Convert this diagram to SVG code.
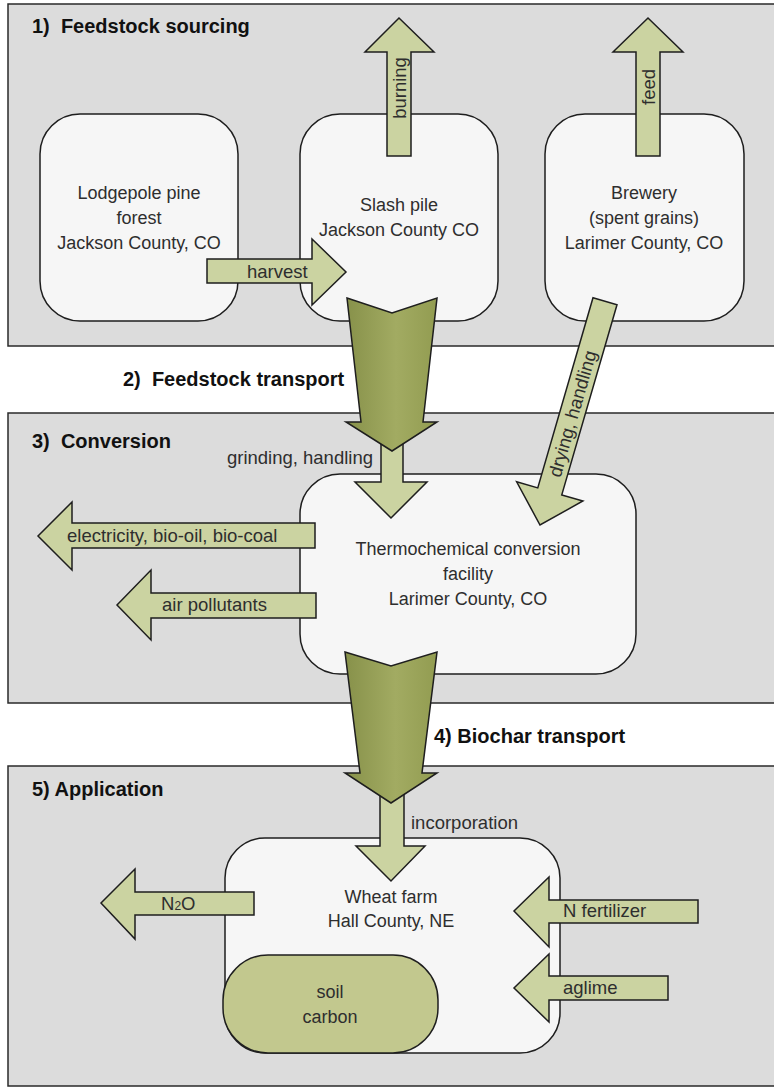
<svg xmlns="http://www.w3.org/2000/svg" width="774" height="1088" viewBox="0 0 774 1088">
<style>
.panel{fill:#dcdcdc;stroke:#2a2a2a;stroke-width:1.5}
.box{fill:#f6f6f6;stroke:#1e1e1e;stroke-width:1.5}
.soil{fill:#c2c88e;stroke:#1e1e1e;stroke-width:1.5}
.la{fill:#cbd3a1;stroke:#1e1e1e;stroke-width:1.5;stroke-linejoin:miter}
.da{fill:url(#dg);stroke:#1e1e1e;stroke-width:1.5}
.t{font-family:"Liberation Sans",Arial,sans-serif;font-size:18px;fill:#2e2e2e}
.tl{font-family:"Liberation Sans",Arial,sans-serif;font-size:18.5px;fill:#2e2e2e}
.h{font-family:"Liberation Sans",Arial,sans-serif;font-size:20px;font-weight:bold;fill:#111}
.c{text-anchor:middle}
</style>
<defs>
<linearGradient id="dg" x1="0" y1="0" x2="1" y2="0">
<stop offset="0" stop-color="#87914a"/>
<stop offset="0.55" stop-color="#a2ab62"/>
<stop offset="1" stop-color="#929c51"/>
</linearGradient>
</defs>
<rect width="774" height="1088" fill="#ffffff"/>
<g id="panels">
<rect class="panel" x="8" y="4" width="780" height="342"/>
<rect class="panel" x="8" y="413" width="780" height="290"/>
<rect class="panel" x="8" y="766" width="780" height="320"/>
<text class="h" x="32" y="33">1)&#160; Feedstock sourcing</text>
<text class="h" x="123" y="386">2)&#160; Feedstock transport</text>
<text class="h" x="32" y="448">3)&#160; Conversion</text>
<text class="h" x="434" y="743">4) Biochar transport</text>
<text class="h" x="32" y="796">5) Application</text>
</g>
<g id="node-lodgepole">
<rect class="box" x="40" y="114" width="198" height="207" rx="40"/>
<text class="t c" x="139" y="199">Lodgepole pine</text>
<text class="t c" x="139" y="224">forest</text>
<text class="t c" x="139" y="249">Jackson County, CO</text>
</g>
<g id="node-slash">
<rect class="box" x="300" y="114" width="198" height="207" rx="40"/>
<text class="t c" x="399" y="211">Slash pile</text>
<text class="t c" x="399" y="236">Jackson County CO</text>
</g>
<g id="node-brewery">
<rect class="box" x="545" y="114" width="199" height="207" rx="40"/>
<text class="t c" x="644" y="199">Brewery</text>
<text class="t c" x="644" y="224">(spent grains)</text>
<text class="t c" x="644" y="249">Larimer County, CO</text>
</g>
<g id="node-facility">
<rect class="box" x="300" y="474" width="336" height="200" rx="40"/>
<text class="t c" x="468" y="555">Thermochemical conversion</text>
<text class="t c" x="468" y="580">facility</text>
<text class="t c" x="468" y="605">Larimer County, CO</text>
</g>
<g id="node-farm">
<rect class="box" x="225" y="838" width="335" height="215" rx="40"/>
<text class="t c" x="391" y="903">Wheat farm</text>
<text class="t c" x="391" y="927">Hall County, NE</text>
</g>
<g id="node-soil">
<rect class="soil" x="223" y="955" width="215" height="98" rx="45"/>
<text class="t c" x="330" y="998">soil</text>
<text class="t c" x="330" y="1023">carbon</text>
</g>
<g id="connectors">
<!-- burning -->
<polygon class="la" points="387,156 387,52 365,52 399,18 434,52 411,52 411,156"/>
<text class="tl c" transform="translate(399,88) rotate(-90)" dominant-baseline="central">burning</text>
<!-- feed -->
<polygon class="la" points="636,156 636,52 613,52 648,18 683,52 660,52 660,156"/>
<text class="tl c" transform="translate(648,87) rotate(-90)" dominant-baseline="central">feed</text>
<!-- harvest -->
<polygon class="la" points="207,259 312,259 312,239 346,272 312,305 312,283 207,283"/>
<text class="tl" x="247" y="278">harvest</text>
<!-- grinding -->
<polygon class="la" points="381,430 403,430 403,482 427,482 391,518 355,482 381,482"/>
<text class="tl" x="373" y="464" text-anchor="end">grinding, handling</text>
<!-- drying -->
<g transform="translate(540,525) rotate(16.2)">
<polygon class="la" points="-12.5,-233 12.5,-233 12.5,-35 34.5,-35 0,0 -34.5,-35 -12.5,-35"/>
<text class="tl c" transform="translate(0,-116) rotate(-90)" dominant-baseline="central">drying, handling</text>
</g>
<!-- feedstock transport -->
<polygon class="da" points="347,298 392,313 437,298 423,422 437,422 392,451 346,422 361,422"/>
<!-- electricity -->
<polygon class="la" points="315,523 315,548 72,548 72,570 38,536 72,502 72,523"/>
<text class="tl" x="67" y="542">electricity, bio-oil, bio-coal</text>
<!-- air pollutants -->
<polygon class="la" points="316,593 316,618 151,618 151,640 117,605 151,570 151,593"/>
<text class="tl" x="162" y="611">air pollutants</text>
<!-- incorporation -->
<polygon class="la" points="380,780 404,780 404,846 425,846 391,881 356,846 380,846"/>
<text class="tl" x="411" y="829">incorporation</text>
<!-- biochar transport -->
<polygon class="da" points="345,652 391,666 437,652 422,773 437,773 391,803 345,773 360,773"/>
<!-- N2O -->
<polygon class="la" points="254,892 254,915 135,915 135,939 101,903 135,869 135,892"/>
<text class="tl" x="161" y="910">N<tspan font-size="12">2</tspan>O</text>
<!-- N fertilizer -->
<polygon class="la" points="698,900 698,923 549,923 549,947 514,911 549,877 549,900"/>
<text class="tl" x="563" y="917">N fertilizer</text>
<!-- aglime -->
<polygon class="la" points="668,976 668,1000 549,1000 549,1022 514,988 549,954 549,976"/>
<text class="tl" x="563" y="994">aglime</text>
</g>
</svg>
